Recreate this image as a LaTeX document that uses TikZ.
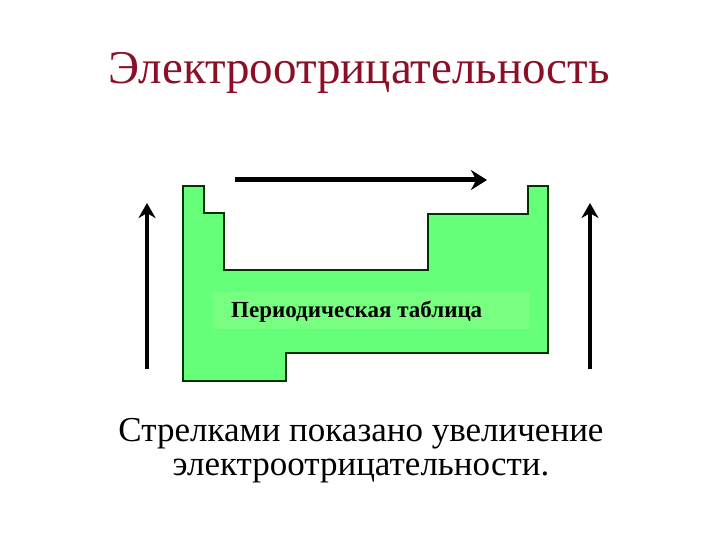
\documentclass[tikz,border=0pt]{standalone}
\usetikzlibrary{arrows.meta}
\usepackage{fontspec}
\setmainfont{Liberation Serif}
\definecolor{titlered}{RGB}{140,15,40}
\definecolor{tablegreen}{RGB}{102,255,122}
\definecolor{labelgreen}{RGB}{120,255,130}
\begin{document}
\begin{tikzpicture}[x=1pt,y=-1pt,
  harr/.style={line width=5pt,-{Stealth[length=16pt,width=20pt]}},
  varr/.style={line width=4pt,-{Stealth[length=15pt,width=17pt]}}]
\useasboundingbox (0,0) rectangle (720,540);
\node[text=titlered,font=\fontsize{47}{52}\selectfont] (title) at (359,73) {Электроотрицательность};
\path[fill=tablegreen,draw=black!80!green,line width=1.2pt]
 (183,186) -- (204,186) -- (204,213) -- (224,213) -- (224,270) -- (428,270) -- (428,214) -- (528,214) -- (528,186) -- (548,186) -- (548,353) -- (286,353) -- (286,381) -- (183,381) -- cycle;
\node[fill=labelgreen,minimum width=317pt,minimum height=37pt,anchor=west,inner sep=0pt] (lbl) at (213,310) {};
\node[font=\bfseries\fontsize{23}{26}\selectfont,anchor=west,inner sep=0pt] (lbltext) at (231,312) {Периодическая таблица};
\coordinate (ta) at (235,180); \coordinate (tb) at (487,180);
\draw[harr] (ta) -- (tb);
\coordinate (la) at (147,369); \coordinate (lb) at (147,203);
\draw[varr] (la) -- (lb);
\coordinate (ra) at (590,369); \coordinate (rb) at (590,203);
\draw[varr] (ra) -- (rb);
\node[font=\fontsize{35}{34}\selectfont,align=center] (cap) at (361,451) {Стрелками показано увеличение\\электроотрицательности.};
\end{tikzpicture}
\end{document}
